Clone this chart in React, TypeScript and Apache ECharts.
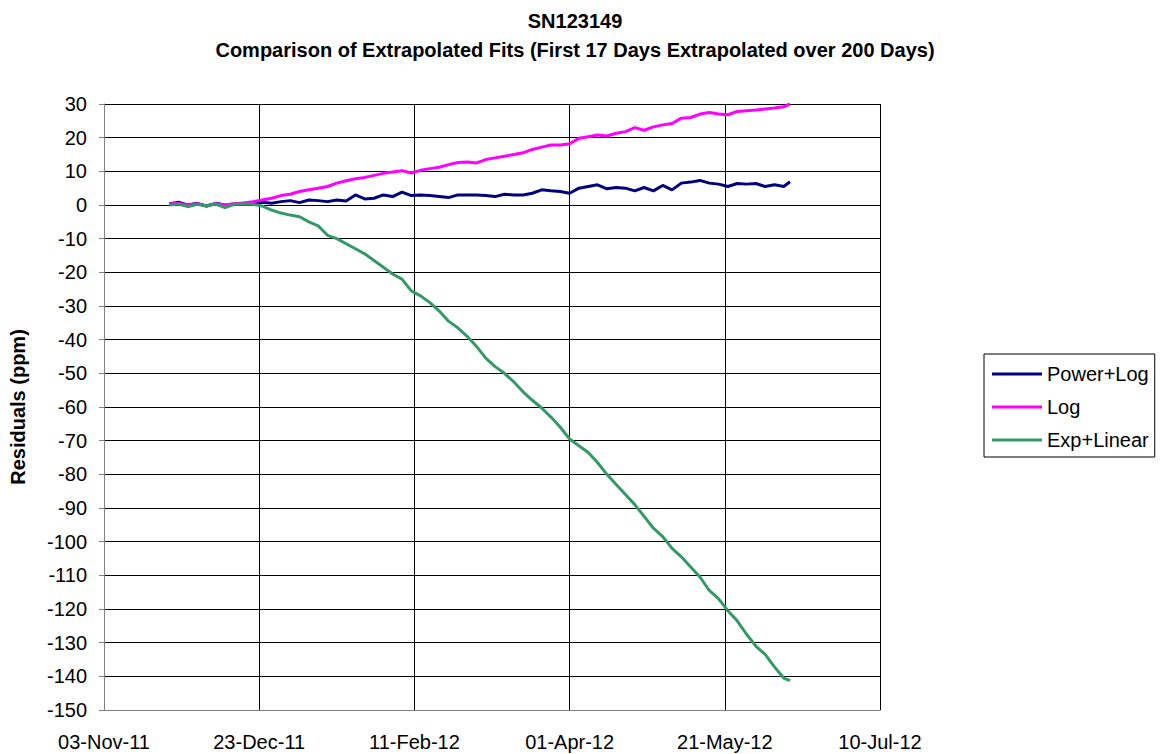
import React, { useEffect, useRef } from "react";
import * as echarts from "echarts";

// Days since 03-Nov-11
const days = [21, 24, 27, 30, 33, 36, 39, 42, 45, 48, 51, 54, 57, 60, 63, 66, 69, 72, 75, 78, 81, 84, 87, 90, 93, 96, 99, 102, 105, 108, 111, 114, 117, 120, 123, 126, 129, 132, 135, 138, 141, 144, 147, 150, 153, 156, 159, 162, 165, 168, 171, 174, 177, 180, 183, 186, 189, 192, 195, 198, 201, 204, 207, 210, 213, 216, 219, 221];

const powerLog = [0.3, 0.8, 0, 0.5, -0.3, 0.5, 0, 0.3, 0.5, 0.2, 0.8, 0.5, 1.0, 1.3, 0.7, 1.5, 1.3, 1.0, 1.5, 1.2, 3.0, 1.8, 2.0, 3.0, 2.5, 3.8, 2.8, 3.0, 2.8, 2.5, 2.2, 3.0, 3.0, 3.0, 2.8, 2.5, 3.2, 3.0, 3.0, 3.5, 4.5, 4.2, 4.0, 3.5, 5.0, 5.5, 6.0, 4.8, 5.2, 5.0, 4.2, 5.2, 4.2, 5.8, 4.5, 6.5, 6.8, 7.3, 6.5, 6.2, 5.5, 6.4, 6.2, 6.4, 5.5, 6.0, 5.5, 6.9];

const logFit = [0.3, 0.5, 0, 0.4, -0.3, 0.4, 0, 0.4, 0.6, 1.0, 1.5, 2.0, 2.8, 3.2, 4.0, 4.5, 5.0, 5.5, 6.5, 7.2, 7.8, 8.2, 8.8, 9.4, 9.8, 10.2, 9.5, 10.3, 10.8, 11.2, 12.0, 12.6, 12.8, 12.5, 13.5, 14.0, 14.5, 15.0, 15.5, 16.5, 17.2, 17.8, 17.8, 18.2, 19.8, 20.3, 20.8, 20.5, 21.3, 21.8, 23.0, 22.2, 23.2, 23.8, 24.2, 25.8, 26.0, 27.0, 27.5, 27.0, 26.8, 27.8, 28.0, 28.2, 28.5, 28.8, 29.2, 30.0];

const expLinear = [0, 0.3, -0.5, 0.2, -0.3, 0.3, -0.8, 0.2, 0.3, 0.2, -0.3, -1.5, -2.4, -3.0, -3.5, -5.0, -6.2, -9.0, -10.0, -11.5, -13.0, -14.5, -16.5, -18.5, -20.5, -22.0, -25.5, -27.0, -29.0, -31.5, -34.5, -36.5, -39.0, -42.0, -45.5, -48.0, -50.0, -52.5, -55.5, -58.0, -60.3, -63.0, -66.0, -69.5, -71.5, -73.5, -76.5, -80.0, -83.0, -86.0, -89.0, -92.5, -96.0, -98.5, -102.0, -104.5, -107.5, -110.5, -114.5, -117.0, -120.5, -123.5, -127.5, -131.0, -133.5, -137.2, -140.5, -141.3];

const seriesNames = ["Power+Log", "Log", "Exp+Linear"];
const seriesColors = ["#000080", "#FF00FF", "#339966"];
const yTicks = { min: -150, max: 30, interval: 10 };
const xTicks = { min: 0, max: 250, interval: 50 };
const startDate = { y: 2011, m: 10, d: 3 };
const monthNames = ["Jan", "Feb", "Mar", "Apr", "May", "Jun", "Jul", "Aug", "Sep", "Oct", "Nov", "Dec"];

const FONT = "'Liberation Sans', Arial, Helvetica, sans-serif";

function fmtDay(v: number): string {
  const dt = new Date(startDate.y, startDate.m, startDate.d + v);
  const dd = String(dt.getDate()).padStart(2, "0");
  const yy = String(dt.getFullYear() % 100).padStart(2, "0");
  return `${dd}-${monthNames[dt.getMonth()]}-${yy}`;
}

export default function App() {
  const ref = useRef<HTMLDivElement>(null);
  useEffect(() => {
    if (!ref.current) return;
    const chart = echarts.init(ref.current, undefined, { renderer: "svg" });
    const allSeries = [powerLog, logFit, expLinear];
    chart.setOption({
      animation: false,
      backgroundColor: "#ffffff",
      title: [
        {
          text: "SN123149",
          left: 570,
          top: 6,
          textAlign: "center",
          textStyle: { fontFamily: FONT, fontSize: 20, fontWeight: "bold", color: "#000" },
        },
        {
          text: "Comparison of Extrapolated Fits (First 17 Days Extrapolated over 200 Days)",
          left: 570,
          top: 35,
          textAlign: "center",
          textStyle: { fontFamily: FONT, fontSize: 20, fontWeight: "bold", color: "#000" },
        },
      ],
      legend: {
        orient: "vertical",
        left: 984,
        top: 354,
        data: seriesNames.map((n) => ({ name: n, icon: "rect" })),
        itemWidth: 50,
        itemHeight: 3,
        itemGap: 13,
        padding: [10, 6, 7, 8],
        borderColor: "#000",
        borderWidth: 1,
        textStyle: { fontFamily: FONT, fontSize: 20, color: "#000" },
      },
      grid: { left: 103, right: 280, top: 104, bottom: 44, containLabel: false },
      xAxis: {
        type: "value",
        min: xTicks.min,
        max: xTicks.max,
        interval: xTicks.interval,
        axisLine: { show: true, onZero: false, lineStyle: { color: "#808080", width: 1 } },
        axisTick: { show: false },
        axisLabel: {
          formatter: (v: number) => fmtDay(v),
          fontFamily: FONT,
          fontSize: 20,
          color: "#000",
          margin: 22,
        },
        splitLine: { show: true, lineStyle: { color: "#000", width: 1 } },
      },
      yAxis: {
        type: "value",
        min: yTicks.min,
        max: yTicks.max,
        interval: yTicks.interval,
        name: "Residuals (ppm)",
        nameLocation: "middle",
        nameGap: 76,
        nameTextStyle: { fontFamily: FONT, fontSize: 20, fontWeight: "bold", color: "#000" },
        axisLine: { show: true, lineStyle: { color: "#808080", width: 1 } },
        axisTick: { show: true, inside: false, length: 5, lineStyle: { color: "#808080" } },
        axisLabel: { fontFamily: FONT, fontSize: 20, color: "#000", margin: 17 },
        splitLine: { show: true, lineStyle: { color: "#000", width: 1 } },
      },
      series: seriesNames.map((n, i) => ({
        name: n,
        type: "line",
        data: days.map((d, j) => [d, allSeries[i][j]]),
        showSymbol: false,
        symbol: "none",
        lineStyle: { color: seriesColors[i], width: 3 },
        itemStyle: { color: seriesColors[i] },
        clip: true,
      })),
    });
    return () => chart.dispose();
  }, []);
  return (
    <div
      ref={ref}
      style={{ position: "fixed", left: 0, top: 0, width: 1160, height: 754, background: "#fff" }}
    />
  );
}
